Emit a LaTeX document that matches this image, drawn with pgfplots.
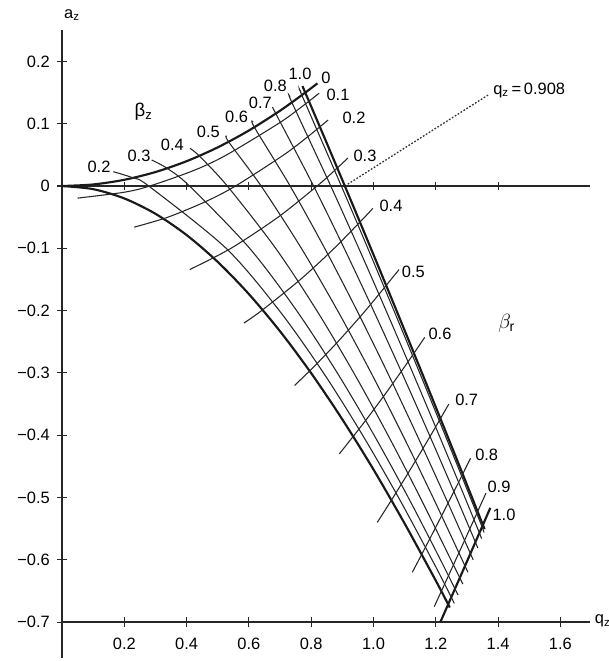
\documentclass[border=0pt]{standalone}
\usepackage{fontspec}
\setmainfont{Liberation Sans}
\usepackage{pgfplots}
\pgfplotsset{compat=1.18}

\tikzset{
  iso/.style={black!85, line width=0.75pt, smooth},
  bnd/.style={black!90, line width=1.5pt, smooth},
  lab/.style={font=\fontsize{11.5}{13}\selectfont, inner sep=0pt},
}

\begin{document}
\begin{tikzpicture}
\begin{axis}[
  x=218.05pt, y=436.1pt,
  xmin=0, xmax=1.695, ymin=-0.7, ymax=0.25,
  axis x line=bottom, axis y line=left,
  axis line style={-, line width=1.1pt, black!85},
  clip=false,
  xtick={0.2,0.4,0.6,0.8,1.0,1.2,1.4,1.6},
  xticklabels={0.2,0.4,0.6,0.8,1.0,1.2,1.4,1.6},
  ytick={-0.7,-0.6,-0.5,-0.4,-0.3,-0.2,-0.1,0,0.1,0.2},
  yticklabels={−0.7,−0.6,−0.5,−0.4,−0.3,−0.2,−0.1,0,0.1,0.2},
  tick align=center,
  major tick length=7pt,
  tick style={line width=0.8pt, black!85},
  tick label style={font=\fontsize{11.5}{13}\selectfont},
  xticklabel style={yshift=-4pt},
  yticklabel style={xshift=-1.5pt},
]
% picture frame (page = reference extent)
\coordinate (BL) at (axis cs:-0.199,-0.7624);
\coordinate (TR) at (axis cs:1.7552,0.2986);

% a_z = 0 line with its ticks
\addplot[black!85, line width=0.9pt] coordinates {(0,0) (1.695,0)};
\pgfplotsinvokeforeach{0.2,0.4,0.6,0.8,1.0,1.2,1.4}{
  \draw[black!85, line width=0.7pt] (axis cs:#1,-0.0065) -- (axis cs:#1,0.0065);
}
\draw[black!85, line width=1.1pt] (axis cs:0,-0.7) -- (axis cs:0,-0.757);

% q_z = 0.908 dotted
\addplot[black!80, line width=0.9pt, dash pattern=on 1.2pt off 1.2pt]
  coordinates {(0.908,0) (1.3676,0.146)};

% ---- boundaries ----
% beta_r = 0
\addplot[bnd] coordinates {(0,0) (0.1,0.0025) (0.2,0.00999) (0.3,0.02244)
  (0.4,0.03983) (0.5,0.06207) (0.6,0.08912) (0.7,0.1209) (0.78,0.1496) (0.82,0.1648)};
% beta_z = 0
\addplot[bnd] coordinates {(0,0) (0.1,-0.005) (0.2,-0.01991) (0.3,-0.04457)
  (0.4,-0.07865) (0.5,-0.1218) (0.6,-0.17345) (0.7,-0.23318) (0.8,-0.3004)
  (0.9,-0.3746) (1.0,-0.4551) (1.1,-0.5418) (1.2,-0.6334) (1.245,-0.6766)};
% beta_z = 1
\addplot[bnd] coordinates {(0.772,0.1604) (0.8,0.1277) (0.85,0.0689) (0.9,0.0096)
  (0.95,-0.0501) (1.0,-0.1102) (1.05,-0.1708) (1.1,-0.2318) (1.15,-0.2931)
  (1.2,-0.3549) (1.25,-0.417) (1.3,-0.4795) (1.3512,-0.544) (1.356,-0.550)};
% beta_r = 1
\addplot[bnd] coordinates {(1.2146,-0.7) (1.25,-0.6597) (1.3,-0.6027)
  (1.35,-0.5454) (1.375,-0.5166)};

% ---- iso beta_r ----
\addplot[iso] coordinates {(0.05,-0.0194) (0.1993,-0.01) (0.2817,0) (0.4232,0.025)
  (0.5286,0.05) (0.6939,0.1) (0.7639,0.125) (0.8257,0.149)};
\addplot[iso] coordinates {(0.232,-0.066) (0.3401,-0.05) (0.4611,-0.025) (0.5569,0)
  (0.712,0.05) (0.7912,0.08) (0.8544,0.106)};
\addplot[iso] coordinates {(0.4104,-0.134) (0.5424,-0.1) (0.6937,-0.05) (0.8189,0)
  (0.8753,0.025) (0.918,0.045)};
\addplot[iso] coordinates {(0.584,-0.22) (0.6407,-0.2) (0.7654,-0.15) (0.8738,-0.1)
  (0.9716,-0.05) (0.9978,-0.0358)};
\addplot[iso] coordinates {(0.7468,-0.32) (0.8087,-0.29) (0.8854,-0.25) (0.9741,-0.2)
  (1.0725,-0.14) (1.0804,-0.135)};
\addplot[iso] coordinates {(0.8902,-0.43) (0.9691,-0.38) (1.0433,-0.33) (1.1139,-0.28)
  (1.1589,-0.247) (1.1644,-0.243)};
\addplot[iso] coordinates {(1.0121,-0.54) (1.0629,-0.5) (1.1243,-0.45) (1.1839,-0.4)
  (1.2418,-0.35)};
\addplot[iso] coordinates {(1.1247,-0.62) (1.1665,-0.58) (1.218,-0.53) (1.2687,-0.48)
  (1.3116,-0.437)};
\addplot[iso] coordinates {(1.1952,-0.675) (1.2366,-0.63) (1.2822,-0.58) (1.3276,-0.53)
  (1.361,-0.493)};

% ---- iso beta_z ----
\addplot[iso] coordinates {(0.1647,0.023) (0.2284,0.013) (0.2784,0) (0.5269,-0.1)
  (0.6977,-0.2) (0.8395,-0.3) (0.9652,-0.4) (1.0804,-0.5) (1.1881,-0.6)
  (1.2397,-0.65) (1.2595,-0.67)};
\addplot[iso] coordinates {(0.288,0.0417) (0.3375,0.0284) (0.4094,0) (0.6024,-0.1)
  (0.7533,-0.2) (0.8838,-0.3) (1.002,-0.4) (1.1117,-0.5) (1.2151,-0.6)
  (1.2615,-0.6465) (1.2715,-0.6565)};
\addplot[iso] coordinates {(0.4109,0.0605) (0.4406,0.0483) (0.5307,0) (0.686,-0.1)
  (0.8181,-0.2) (0.9368,-0.3) (1.0466,-0.4) (1.15,-0.5) (1.2485,-0.6)
  (1.277,-0.6289) (1.2868,-0.6389)};
\addplot[iso] coordinates {(0.5287,0.0803) (0.5349,0.071) (0.6393,0) (0.7685,-0.1)
  (0.8848,-0.2) (0.9925,-0.3) (1.0941,-0.4) (1.1911,-0.5) (1.2846,-0.6)
  (1.2938,-0.6099) (1.303,-0.6199)};
\addplot[iso] coordinates {(0.6141,0.1032) (0.6176,0.0944) (0.7324,0) (0.8434,-0.1)
  (0.947,-0.2) (1.0454,-0.3) (1.1398,-0.4) (1.2311,-0.5) (1.2758,-0.55)
  (1.3111,-0.59) (1.32,-0.60)};
\addplot[iso] coordinates {(0.678,0.1245) (0.6864,0.1162) (0.8077,0) (0.9059,-0.1)
  (1.0001,-0.2) (1.0912,-0.3) (1.1798,-0.4) (1.2663,-0.5) (1.3089,-0.55)
  (1.3271,-0.5716) (1.335,-0.581)};
\addplot[iso] coordinates {(0.732,0.1433) (0.7381,0.1341) (0.8629,0) (0.9528,-0.1)
  (1.0404,-0.2) (1.1262,-0.3) (1.2105,-0.4) (1.2935,-0.5) (1.3345,-0.55)
  (1.3401,-0.5568) (1.347,-0.566)};
\addplot[iso] coordinates {(0.767,0.1505) (0.77,0.1459) (0.8968,0) (0.9818,-0.1)
  (1.0656,-0.2) (1.1483,-0.3) (1.23,-0.4) (1.3108,-0.5) (1.3429,-0.54)
  (1.3485,-0.547) (1.355,-0.556)};

% ---- labels ----
\node[lab] at (axis cs:0.1188,0.030) {0.2};
\node[lab] at (axis cs:0.2472,0.0486) {0.3};
\node[lab] at (axis cs:0.3542,0.0658) {0.4};
\node[lab] at (axis cs:0.4698,0.0867) {0.5};
\node[lab] at (axis cs:0.5607,0.1108) {0.6};
\node[lab] at (axis cs:0.637,0.1330) {0.7};
\node[lab] at (axis cs:0.6849,0.161) {0.8};
\node[lab] at (axis cs:0.764,0.1798) {1.0};

\node[lab] at (axis cs:0.8475,0.1734) {0};
\node[lab] at (axis cs:0.886,0.146) {0.1};
\node[lab] at (axis cs:0.9374,0.110) {0.2};
\node[lab] at (axis cs:0.9727,0.049) {0.3};
\node[lab] at (axis cs:1.0562,-0.0313) {0.4};
\node[lab] at (axis cs:1.1278,-0.1384) {0.5};
\node[lab] at (axis cs:1.2135,-0.238) {0.6};
\node[lab] at (axis cs:1.2992,-0.344) {0.7};
\node[lab] at (axis cs:1.3634,-0.4318) {0.8};
\node[lab] at (axis cs:1.4029,-0.4827) {0.9};
\node[lab] at (axis cs:1.419,-0.528) {1.0};

\node[lab, font=\fontsize{13}{15}\selectfont] at (axis cs:0.262,0.1188) {β\textsubscript{z}};
\node[lab, font=\fontsize{14}{16}\selectfont] at (axis cs:1.4276,-0.2204) {$\beta_{\mathrm{r}}$};
\node[lab, anchor=west] at (axis cs:1.3836,0.1541) {q\textsubscript{z}\,=\,0.908};
\node[lab] at (axis cs:0.0321,0.2745) {a\textsubscript{z}};
\node[lab, anchor=west] at (axis cs:1.71,-0.698) {q\textsubscript{z}};
\end{axis}
\pgfresetboundingbox
\useasboundingbox (BL) rectangle (TR);
\end{tikzpicture}
\end{document}
